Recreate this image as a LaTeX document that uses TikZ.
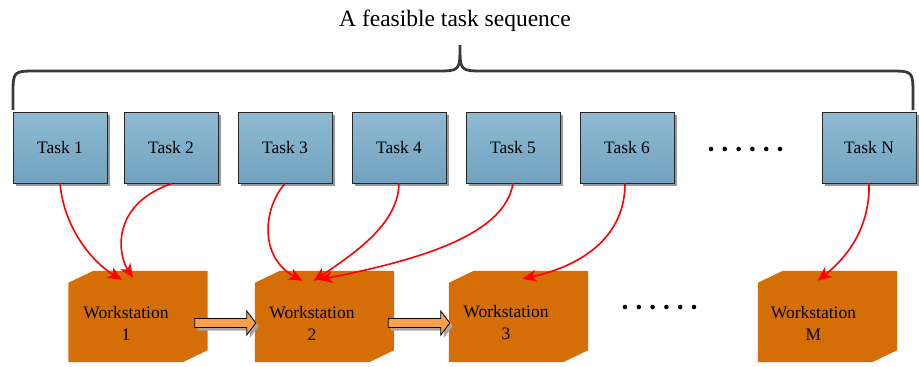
\documentclass[tikz,border=0pt]{standalone}
\usepackage{fontspec}
\setmainfont{Liberation Serif}
\usetikzlibrary{arrows.meta,calc,shadows}
\definecolor{tasktop}{RGB}{143,186,210}
\definecolor{taskbot}{RGB}{114,162,192}
\definecolor{wsorange}{RGB}{214,110,8}
\definecolor{arrowfill}{RGB}{250,160,76}
\definecolor{bracegray}{RGB}{58,58,58}
\newcommand{\wsfill}[1]{\fill[wsorange] ([yshift=-12pt]#1.north west) -- ([xshift=25pt]#1.north west) -- (#1.north east) -- ([yshift=12pt]#1.south east) -- ([xshift=-25pt]#1.south east) -- (#1.south west) -- cycle;}
\newcommand{\blockarr}[3]{\draw[barrow] ($(#1.east)+(#3,2)$) -- ($(#2.west)+(-8,2)$) -- ($(#2.west)+(-8,-5.5)$) -- ($(#2.west)+(1,6.5)$) -- ($(#2.west)+(-8,18.5)$) -- ($(#2.west)+(-8,11)$) -- ($(#1.east)+(#3,11)$) -- cycle;}
\tikzset{
  taskbox/.style={draw=black!85, line width=0.8pt, minimum width=94pt, minimum height=71pt, inner sep=0pt,
    top color=tasktop, bottom color=taskbot,
    drop shadow={shadow xshift=3pt, shadow yshift=-3pt, fill=black!40, opacity=1},
    font=\fontsize{17.5}{21}\selectfont},
  wsnode/.style={minimum width=139pt, minimum height=91pt, inner sep=0pt},
  wstext/.style={align=center, font=\fontsize{17.5}{22}\selectfont, inner sep=0pt},
  barrow/.style={draw=black, line width=0.8pt, fill=arrowfill, line join=miter,
    drop shadow={shadow xshift=3pt, shadow yshift=-3pt, fill=black!35, opacity=1}},
  link/.style={draw=red, line width=1.6pt, -{Stealth[length=14pt,width=12pt,inset=4pt]}},
  bracestyle/.style={draw=bracegray, line width=2.8pt},
  dotmark/.style={fill=black}
}
\begin{document}
\begin{tikzpicture}[x=1pt,y=-1pt]
\useasboundingbox (0,0) rectangle (919,367);
% title and brace
\node[anchor=base, font=\fontsize{23.5}{28}\selectfont, inner sep=0pt] (title) at (455,26) {A feasible task sequence};
\draw[bracestyle] (13,110) -- (13,95) .. controls (13,71) .. (37,71) -- (436,71) .. controls (460,71) .. (460,45)
  .. controls (460,71) .. (484,71) -- (889,71) .. controls (913,71) .. (913,95) -- (913,110);
% tasks
\node[taskbox] (t1) at (60,147.5) {Task 1};
\node[taskbox] (t2) at (171,147.5) {Task 2};
\node[taskbox] (t3) at (285,147.5) {Task 3};
\node[taskbox] (t4) at (399,147.5) {Task 4};
\node[taskbox] (t5) at (513,147.5) {Task 5};
\node[taskbox] (t6) at (627,147.5) {Task 6};
\node[taskbox] (tN) at (869,147.5) {Task N};
\foreach \i in {0,...,5} \fill[dotmark] (711+13.8*\i,149) circle (2.3);
% workstations
\node[wsnode] (ws1) at (138,316.5) {};
\node[wsnode] (ws2) at (324.5,316.5) {};
\node[wsnode] (ws3) at (518.5,316.5) {};
\node[wsnode] (wsM) at (827.5,316.5) {};
\wsfill{ws1}\wsfill{ws2}\wsfill{ws3}\wsfill{wsM}
\node[wstext] (ws1t) at ($(ws1.center)+(-12,6.5)$) {Workstation\\1};
\node[wstext] (ws2t) at ($(ws2.center)+(-12.5,6.5)$) {Workstation\\2};
\node[wstext] (ws3t) at ($(ws3.center)+(-12.5,6.5)$) {Workstation\\3};
\node[wstext] (wsMt) at ($(wsM.center)+(-14,6.5)$) {Workstation\\M};
\foreach \i in {0,...,5} \fill[dotmark] (625+13.8*\i,307) circle (2.3);
% block arrows
\blockarr{ws1}{ws2}{-13}
\blockarr{ws2}{ws3}{-6}
% links
\draw[link] (t1.south) .. controls (64,228) and (92,262) .. ($(ws1.north)+(-16,9)$);
\draw[link] ($(t2.south)+(1,0)$) .. controls (110,205) and (118,255) .. ($(ws1.north)+(-5,7)$);
\draw[link] (t3.south) .. controls (262,210) and (260,258) .. ($(ws2.north)+(-22,10)$);
\draw[link] (t4.south) .. controls (398,222) and (360,250) .. ($(ws2.north)+(-11,10)$);
\draw[link] (t5.south) .. controls (505,232) and (430,258) .. ($(ws2.north)+(-6,9)$);
\draw[link] ($(t6.south)+(-2,0)$) .. controls (625,235) and (585,265) .. ($(ws3.north)+(4,8)$);
\draw[link] (tN.south) .. controls (870,225) and (850,255) .. ($(wsM.north)+(-10,10)$);
\end{tikzpicture}
\end{document}
